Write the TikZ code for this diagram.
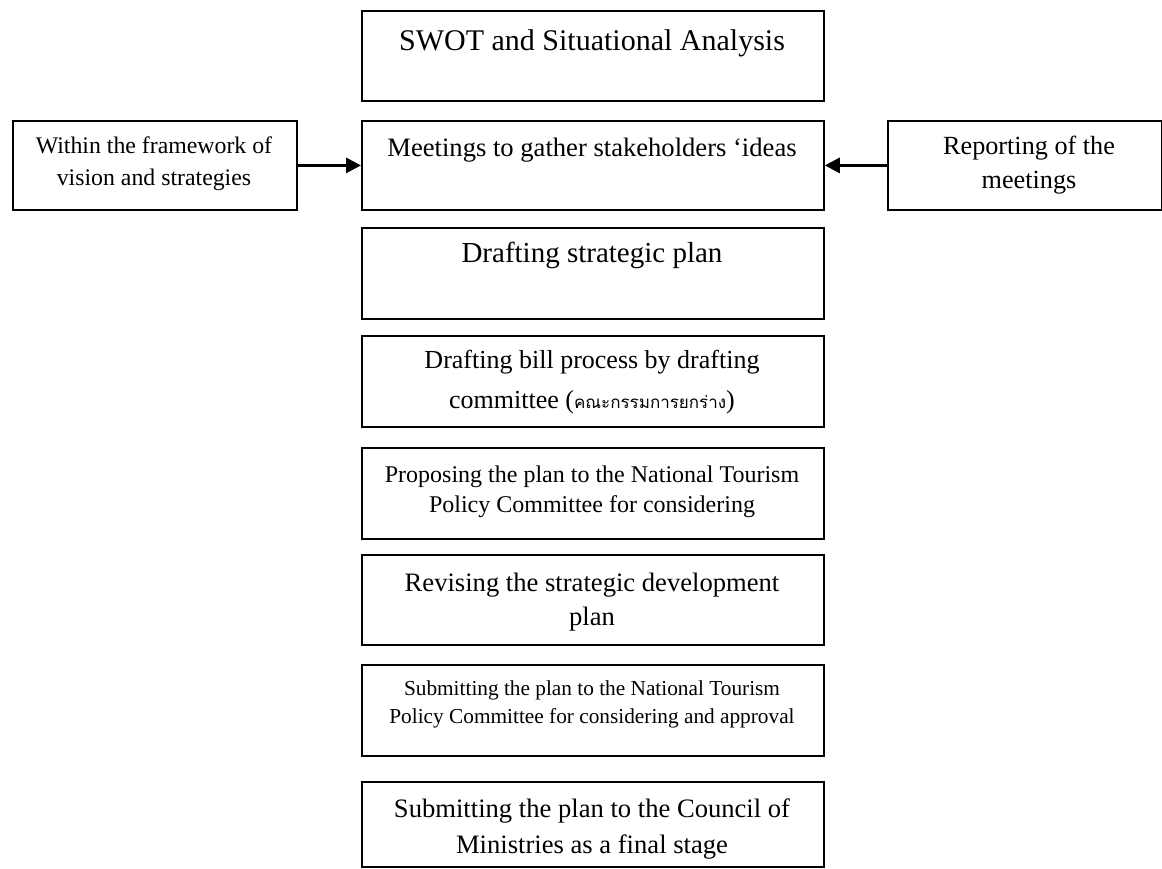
\documentclass[tikz,border=0pt]{standalone}
\usepackage{fontspec}
\setmainfont{Liberation Serif}
\newfontfamily\thaifont[Script=Thai]{Loma}
\usetikzlibrary{arrows.meta}
\newcommand\fsz[2]{\fontsize{#1}{#2}\selectfont}
\newcommand\lines[1]{\begin{tabular}[t]{@{}c@{}}#1\end{tabular}}
\tikzset{
  box/.style={draw=black, line width=1.8pt, rectangle, inner sep=0pt, anchor=north west},
  txt/.style={inner sep=0pt, anchor=base},
  arr/.style={line width=3pt, -{Triangle[length=15pt,width=15pt]}}
}
\begin{document}
\begin{tikzpicture}[x=1pt,y=-1pt]
\useasboundingbox (0,0) rectangle (1162,868);
% boxes
\node[box, minimum width=462pt, minimum height=90pt] (swot) at (361,10) {};
\node[box, minimum width=462pt, minimum height=89pt] (meet) at (361,120) {};
\node[box, minimum width=284pt, minimum height=89pt] (within) at (12,120) {};
\node[box, minimum width=274pt, minimum height=89pt] (report) at (887,120) {};
\node[box, minimum width=462pt, minimum height=91pt] (draft) at (361,227) {};
\node[box, minimum width=462pt, minimum height=91pt] (bill) at (361,335) {};
\node[box, minimum width=462pt, minimum height=91pt] (prop) at (361,447) {};
\node[box, minimum width=462pt, minimum height=90pt] (revis) at (361,554) {};
\node[box, minimum width=462pt, minimum height=91pt] (subm) at (361,664) {};
\node[box, minimum width=462pt, minimum height=85pt] (counc) at (361,781) {};
% texts
\node[txt] (tswot) at (592,50) {\fsz{30}{30}\lines{SWOT and Situational Analysis}};
\node[txt] (tmeet) at (592,156) {\fsz{26.6}{30}\lines{Meetings to gather stakeholders ‘ideas}};
\node[txt] (twithin) at (154,153) {\fsz{23.8}{32}\lines{Within the framework of\\vision and strategies}};
\node[txt] (treport) at (1029,154) {\fsz{26.2}{34}\lines{Reporting of the\\meetings}};
\node[txt] (tdraft) at (592,262) {\fsz{29}{30}\lines{Drafting strategic plan}};
\node[txt] (tbill) at (592,368) {\fsz{26}{40}\lines{Drafting bill process by drafting\\committee ({\thaifont\fontsize{17}{20}\selectfont คณะกรรมการยกร่าง})}};
\node[txt] (tprop) at (592,482) {\fsz{24}{30}\lines{Proposing the plan to the National Tourism\\Policy Committee for considering}};
\node[txt] (trevis) at (592,591) {\fsz{26.6}{34}\lines{Revising the strategic development\\plan}};
\node[txt] (tsubm) at (592,695) {\fsz{21.3}{28}\lines{Submitting the plan to the National Tourism\\Policy Committee for considering and approval}};
\node[txt] (tcounc) at (592,817) {\fsz{26.6}{36}\lines{Submitting the plan to the Council of\\Ministries as a final stage}};
% arrows
\draw[arr] (within.east) -- (meet.west);
\draw[arr] (report.west) -- (meet.east);
\end{tikzpicture}
\end{document}
